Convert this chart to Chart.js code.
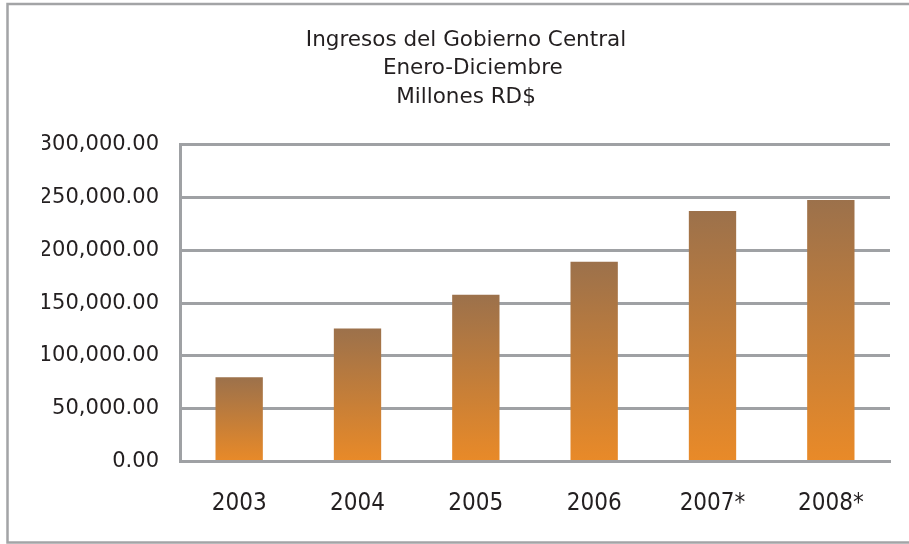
<!DOCTYPE html>
<html>
<head>
<meta charset="utf-8">
<script src="https://cdn.jsdelivr.net/npm/chart.js@4.4.1/dist/chart.umd.min.js"></script>
<style>
  html, body { margin: 0; padding: 0; background: #ffffff; }
  #wrap { width: 909px; height: 544px; }
</style>
</head>
<body>
<div id="wrap"><canvas id="ingresosChart" width="909" height="544"></canvas></div>
<script>
// Data
const years = ['2003', '2004', '2005', '2006', '2007*', '2008*'];
const ingresos = [79700, 125900, 158000, 189150, 237300, 247600];
const titleLines = ['Ingresos del Gobierno Central', '  Enero-Diciembre', 'Millones RD$'];

const GRID_GREY = '#9fa1a4';
const TEXT_DARK = '#231f20';

// Outer frame of the original chart object (cut off on the right)
const framePlugin = {
    id: 'frame',
    beforeDraw: function(chart) {
        const c = chart.ctx;
        c.save();
        c.strokeStyle = '#a3a4a6';
        c.lineWidth = 2.5;
        c.beginPath();
        c.moveTo(chart.width + 5, 4);
        c.lineTo(7.5, 4);
        c.lineTo(7.5, 542.5);
        c.lineTo(chart.width + 5, 542.5);
        c.stroke();
        c.restore();
    }
};

// Each bar is shaded from brown at its top to orange at its base
function barGradient(context) {
    const chart = context.chart;
    if (!chart.chartArea || context.raw === undefined) return '#d38636';
    const yScale = chart.scales.y;
    const top = yScale.getPixelForValue(context.raw);
    const base = yScale.getPixelForValue(0);
    const g = chart.ctx.createLinearGradient(0, top, 0, base);
    g.addColorStop(0, '#9c714b');
    g.addColorStop(1, '#e98a28');
    return g;
}

new Chart(document.getElementById('ingresosChart').getContext('2d'), {
    type: 'bar',
    data: {
        labels: years,
        datasets: [{
            label: 'Ingresos',
            data: ingresos,
            backgroundColor: barGradient,
            borderWidth: 0,
            categoryPercentage: 1.0,
            barPercentage: 0.40
        }]
    },
    options: {
        responsive: false,
        animation: false,
        layout: {
            padding: { left: 42, right: 19, top: 0, bottom: 0 }
        },
        plugins: {
            legend: { display: false },
            tooltip: { enabled: false },
            title: {
                display: true,
                text: titleLines,
                color: TEXT_DARK,
                font: { family: '"DejaVu Sans", sans-serif', size: 21.5, weight: 'normal', lineHeight: 1.33 },
                padding: { top: 26, bottom: 33 }
            }
        },
        scales: {
            x: {
                grid: { display: false, drawTicks: false },
                border: { display: true, color: GRID_GREY, width: 3 },
                ticks: {
                    color: TEXT_DARK,
                    padding: 28,
                    font: { family: '"DejaVu Sans Condensed", sans-serif', size: 24 }
                },
                afterFit: function(scale) { scale.height = 82.5; }
            },
            y: {
                min: 0,
                max: 300000,
                grid: { color: GRID_GREY, lineWidth: 3, drawTicks: false },
                border: { display: true, color: GRID_GREY, width: 3 },
                ticks: {
                    stepSize: 50000,
                    color: TEXT_DARK,
                    padding: 21,
                    font: { family: '"DejaVu Sans", sans-serif', size: 21 },
                    callback: function(value) {
                        return Number(value).toLocaleString('en-US', { minimumFractionDigits: 2, maximumFractionDigits: 2 });
                    }
                },
                afterFit: function(scale) { scale.width = 138; }
            }
        }
    },
    plugins: [framePlugin]
});
</script>
</body>
</html>
